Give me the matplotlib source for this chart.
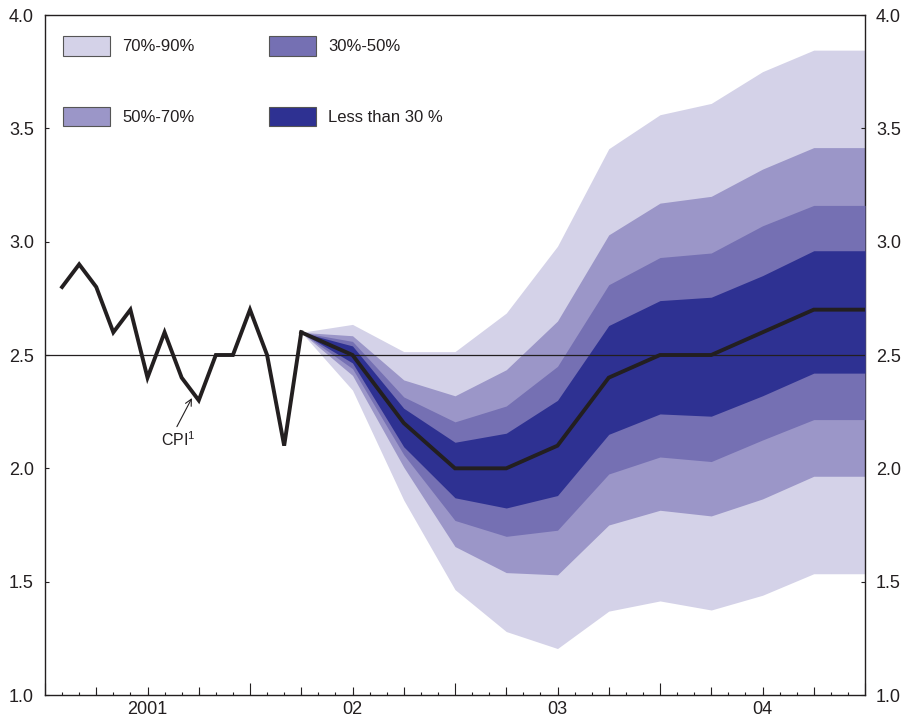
import numpy as np
import matplotlib
matplotlib.use('Agg')
import matplotlib.pyplot as plt
from matplotlib.patches import Patch

plt.rcParams['font.family'] = ['Liberation Sans', 'DejaVu Sans']
plt.rcParams['mathtext.default'] = 'regular'

# months counted from the start of 2001
cpi_months = list(range(1, 16))
cpi = [2.8, 2.9, 2.8, 2.6, 2.7, 2.4, 2.6, 2.4, 2.3, 2.5, 2.5, 2.7, 2.5, 2.1, 2.6]

fc_months = [15, 18, 21, 24, 27, 30, 33, 36, 39, 42, 45, 48]
central = [2.6, 2.5, 2.2, 2.0, 2.0, 2.1, 2.4, 2.5, 2.5, 2.6, 2.7, 2.7]
u90 = [2.6, 2.635, 2.515, 2.515, 2.685, 2.98, 3.41, 3.56, 3.61, 3.75, 3.845, 3.845]
u70 = [2.6, 2.585, 2.39, 2.32, 2.435, 2.65, 3.03, 3.17, 3.20, 3.32, 3.415, 3.415]
u50 = [2.6, 2.56, 2.315, 2.205, 2.275, 2.45, 2.81, 2.93, 2.95, 3.07, 3.16, 3.16]
u30 = [2.6, 2.54, 2.265, 2.115, 2.155, 2.30, 2.63, 2.74, 2.755, 2.85, 2.96, 2.96]
l30 = [2.6, 2.465, 2.095, 1.87, 1.825, 1.88, 2.15, 2.24, 2.23, 2.32, 2.42, 2.42]
l50 = [2.6, 2.44, 2.06, 1.77, 1.70, 1.727, 1.975, 2.05, 2.03, 2.125, 2.215, 2.215]
l70 = [2.6, 2.41, 2.005, 1.655, 1.54, 1.53, 1.75, 1.815, 1.79, 1.865, 1.965, 1.965]
l90 = [2.6, 2.345, 1.86, 1.465, 1.28, 1.205, 1.37, 1.415, 1.375, 1.44, 1.535, 1.535]

band_labels = ['70%-90%', '50%-70%', '30%-50%', 'Less than 30 %']
band_colors = ['#d4d2e8', '#9b96c8', '#7570b3', '#2e3192']

year_labels = ['2001', '02', '03', '04']

ink = '#231f20'

fig = plt.figure(figsize=(9.1, 7.19), dpi=100)
ax = fig.add_axes([45/910, 24/719, 820/910, 680/719])

ax.fill_between(fc_months, l90, u90, color=band_colors[0], lw=0, zorder=1)
ax.fill_between(fc_months, l70, u70, color=band_colors[1], lw=0, zorder=2)
ax.fill_between(fc_months, l50, u50, color=band_colors[2], lw=0, zorder=3)
ax.fill_between(fc_months, l30, u30, color=band_colors[3], lw=0, zorder=4)

ax.axhline(2.5, color=ink, lw=0.9, zorder=5)

ax.plot(cpi_months, cpi, color=ink, lw=2.8, solid_joinstyle='miter', zorder=6)
ax.plot(fc_months, central, color=ink, lw=2.8, solid_joinstyle='miter', zorder=6)

ax.annotate('CPI$^1$', xy=(8.6, 2.31), xytext=(7.8, 2.125),
            ha='center', va='center', fontsize=11.5, color=ink,
            arrowprops=dict(arrowstyle='->', color=ink, lw=0.8,
                            relpos=(0.4, 1.0), shrinkA=1, shrinkB=0))

ax.set_xlim(0, 48)
ax.set_ylim(1.0, 4.0)

for s in ['left', 'right', 'bottom', 'top']:
    ax.spines[s].set_color(ink)
    ax.spines[s].set_linewidth(1.0)

yt = np.arange(1.0, 4.01, 0.5)
ax.set_yticks(yt, [f'{v:.1f}' for v in yt])
ax.tick_params(axis='y', direction='in', length=3, width=0.8, color=ink,
               left=True, right=True, labelleft=True, labelright=True,
               labelsize=13, labelcolor=ink, pad=8)

ax.set_xticks([0, 12, 24, 36, 48], [''] * 5)
ax.set_xticks([m for m in range(1, 48) if m % 12], minor=True)
ax.tick_params(axis='x', which='major', direction='in', length=9, width=0.8, color=ink)
ax.tick_params(axis='x', which='minor', direction='in', length=2.5, width=0.8, color=ink)

sec = ax.secondary_xaxis('bottom')
qpos = [q for q in range(3, 48, 3) if q % 12]
qlab = [year_labels[q // 12] if q % 12 == 6 else '' for q in qpos]
sec.set_xticks(qpos, qlab)
sec.spines['bottom'].set_visible(False)
sec.tick_params(direction='in', length=6, width=0.8, color=ink,
                labelsize=13, labelcolor=ink, pad=4)

handles = [Patch(facecolor=c, edgecolor='#555555', lw=0.8) for c in band_colors]
ax.legend(handles, band_labels, ncol=2, loc='upper left',
          bbox_to_anchor=(18/820, 1 - 21/680), frameon=False, fontsize=12,
          handlelength=2.82, handleheight=1.45, handletextpad=0.72,
          labelspacing=3.05, columnspacing=4.5, borderpad=0, borderaxespad=0,
          labelcolor=ink)

fig.savefig('out.png', dpi=100)
